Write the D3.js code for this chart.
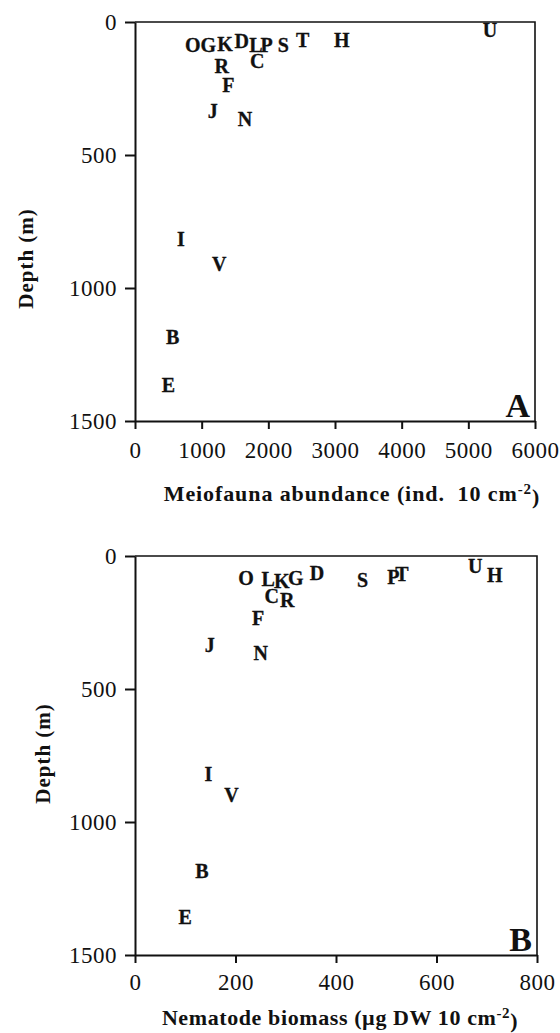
<!DOCTYPE html>
<html>
<head>
<meta charset="utf-8">
<script src="https://cdn.jsdelivr.net/npm/d3@7"></script>
<style>
  body { margin: 0; background: #fff; }
  svg { display: block; font-family: "Liberation Serif", "Times New Roman", serif; }
</style>
</head>
<body>
<svg id="chart" width="560" height="1033"></svg>
<script>
// station letters (same order in both panels)
var stations = ['O','G','K','D','L','P','S','T','H','U','R','C','F','J','N','I','V','B','E'];

// panel A: meiofauna abundance (ind. 10 cm-2) and depth (m)
var abundance = [865, 1100, 1350, 1600, 1815, 1975, 2225, 2515, 3100, 5325, 1300, 1835, 1400, 1165, 1650, 690, 1265, 565, 500];
var depthA    = [89, 89, 84, 74, 86, 89, 89, 67, 67, 30, 168, 146, 236, 334, 367, 815, 911, 1186, 1365];

// panel B: nematode biomass (ug DW 10 cm-2) and depth (m)
var biomass = [221, 320, 292, 362, 265, 514, 453, 531, 716, 677, 303, 272, 245, 149, 250, 146, 192, 133, 100];
var depthB  = [84, 84, 94, 65, 86, 80, 90, 67, 71, 40, 165, 153, 234, 334, 365, 821, 899, 1184, 1359];

var depthTicks = [0, 500, 1000, 1500];
var abundanceTicks = [0, 1000, 2000, 3000, 4000, 5000, 6000];
var biomassTicks = [0, 200, 400, 600, 800];

var svg = d3.select('#chart');

function drawPanel(opt) {
    var x = d3.scaleLinear().domain(opt.xDomain).range([opt.left, opt.right]);
    var y = d3.scaleLinear().domain([0, 1500]).range([opt.top, opt.bottom]);
    var g = svg.append('g');

    // frame (top and right)
    g.append('path')
        .attr('d', 'M' + opt.left + ',' + opt.top + 'H' + opt.right + 'V' + opt.bottom)
        .attr('fill', 'none')
        .attr('stroke', '#111')
        .attr('stroke-width', 1.6);

    var yAxis = g.append('g')
        .attr('transform', 'translate(' + opt.left + ',0)')
        .call(d3.axisLeft(y).tickValues(depthTicks).tickFormat(d3.format('d'))
            .tickSize(10).tickSizeOuter(0).tickPadding(8));

    var xAxis = g.append('g')
        .attr('transform', 'translate(0,' + opt.bottom + ')')
        .call(d3.axisBottom(x).tickValues(opt.ticks).tickFormat(d3.format('d'))
            .tickSize(8).tickSizeOuter(0).tickPadding(opt.xPad));

    [yAxis, xAxis].forEach(function(a) {
        a.selectAll('path, line').attr('stroke', '#111').attr('stroke-width', 2);
        a.selectAll('text')
            .attr('fill', '#111')
            .style('font-size', '23px')
            .style('letter-spacing', '0.5px')
            .style('font-family', '"Liberation Serif", serif');
    });

    // station letters
    g.selectAll('.stn')
        .data(stations)
        .enter()
        .append('text')
        .attr('class', 'stn')
        .attr('x', function(d, i) { return x(opt.xs[i]); })
        .attr('y', function(d, i) { return y(opt.ys[i]); })
        .attr('dy', '0.34em')
        .attr('text-anchor', 'middle')
        .attr('font-weight', 'bold')
        .attr('font-size', '20px')
        .attr('fill', '#111')
        .attr('stroke', '#111')
        .attr('stroke-width', 0.3)
        .text(function(d) { return d; });

    // panel letter
    g.append('text')
        .attr('x', opt.right - 5)
        .attr('y', opt.bottom - 4)
        .attr('text-anchor', 'end')
        .attr('font-weight', 'bold')
        .attr('font-size', '34px')
        .attr('fill', '#111')
        .text(opt.panel);

    // y title
    g.append('text')
        .attr('transform', 'translate(' + opt.yTitleX + ',' + ((opt.top + opt.bottom) / 2 + opt.yTitleShift) + ') rotate(-90)')
        .attr('text-anchor', 'middle')
        .attr('font-weight', 'bold')
        .attr('font-size', '21px')
        .attr('letter-spacing', '1px')
        .attr('fill', '#111')
        .text('Depth (m)');

    // x title with superscript
    var t = g.append('text')
        .attr('x', opt.xTitleX)
        .attr('y', opt.xTitleY)
        .attr('text-anchor', 'middle')
        .attr('font-weight', 'bold')
        .attr('font-size', '22px')
        .attr('letter-spacing', opt.xTitleSpacing)
        .attr('fill', '#111')
        .style('white-space', 'pre');
    t.append('tspan').text(opt.xTitle);
    t.append('tspan').attr('dy', '-0.45em').attr('font-size', '15px').text('-2');
    t.append('tspan').attr('dy', '0.45em').text(')');
}

drawPanel({
    panel: 'A',
    left: 135, right: 535, top: 22, bottom: 421,
    xDomain: [0, 6000], ticks: abundanceTicks, xPad: 13,
    xs: abundance, ys: depthA,
    yTitleX: 33, yTitleShift: 37,
    xTitleX: 352, xTitleY: 501, xTitleSpacing: '0.9px',
    xTitle: 'Meiofauna abundance (ind.  10 cm'
});

drawPanel({
    panel: 'B',
    left: 135, right: 537, top: 556, bottom: 955,
    xDomain: [0, 800], ticks: biomassTicks, xPad: 11,
    xs: biomass, ys: depthB,
    yTitleX: 50, yTitleShift: -2,
    xTitleX: 340, xTitleY: 1025, xTitleSpacing: '0.6px',
    xTitle: 'Nematode biomass (\u00b5g DW 10 cm'
});
</script>
</body>
</html>
